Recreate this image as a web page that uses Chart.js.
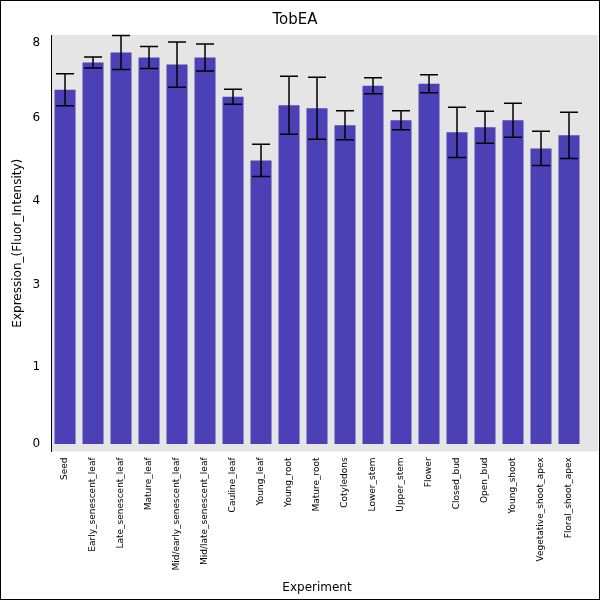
<!DOCTYPE html>
<html><head><meta charset="utf-8">
<script src="https://cdn.jsdelivr.net/npm/chart.js@4"></script>
<style>body{margin:0;background:#fff}#w{width:598px;height:598px;border:1px solid #000;position:relative}</style>
</head><body><div id="w"><canvas id="c"></canvas></div>
<script>
// tissue names and values in the chart's axis units
var categories = ['Seed','Early_senescent_leaf','Late_senescent_leaf','Mature_leaf','Mid/early_senescent_leaf','Mid/late_senescent_leaf','Cauline_leaf','Young_leaf','Young_root','Mature_root','Cotyledons','Lower_stem','Upper_stem','Flower','Closed_bud','Open_bud','Young_shoot','Vegetative_shoot_apex','Floral_shoot_apex'];
var means = [7.06,7.60,7.80,7.70,7.56,7.70,6.92,5.65,6.75,6.69,6.35,7.14,6.45,7.18,6.21,6.31,6.45,5.89,6.15];
var errs = [0.32,0.11,0.34,0.22,0.45,0.27,0.15,0.32,0.58,0.62,0.29,0.16,0.19,0.18,0.50,0.32,0.34,0.34,0.46];
var tickPos = [0,1.53,3.17,4.84,6.49,8];
var tickLabels = ['0','1','3','4','6','8'];

var bgPlugin = {
  id: 'bg',
  beforeDraw: function(chart) {
    var a = chart.chartArea, ctx = chart.ctx;
    ctx.save(); ctx.fillStyle = '#e5e5e5';
    ctx.fillRect(a.left, a.top, a.right - a.left + 15, a.bottom - a.top);
    ctx.restore();
  }
};
var errPlugin = {
  id: 'err',
  afterDatasetsDraw: function(chart) {
    var ctx = chart.ctx, y = chart.scales.y, meta = chart.getDatasetMeta(0);
    ctx.save(); ctx.strokeStyle = '#000'; ctx.lineWidth = 1.5;
    meta.data.forEach(function(bar, i) {
      var x = bar.x, hi = y.getPixelForValue(means[i] + errs[i]), lo = y.getPixelForValue(means[i] - errs[i]);
      ctx.beginPath();
      ctx.moveTo(x, hi); ctx.lineTo(x, lo);
      ctx.moveTo(x - 9, hi); ctx.lineTo(x + 9, hi);
      ctx.moveTo(x - 9, lo); ctx.lineTo(x + 9, lo);
      ctx.stroke();
    });
    ctx.restore();
  }
};

new Chart(document.getElementById('c'), {
  type: 'bar',
  data: { labels: categories, datasets: [{ data: means, backgroundColor: '#4b40b5', barPercentage: 0.75, categoryPercentage: 1 }] },
  options: {
    responsive: true, maintainAspectRatio: false, animation: false,
    layout: { padding: { right: 16, left: 6 } },
    plugins: {
      legend: { display: false }, tooltip: { enabled: false },
      title: { display: true, text: 'TobEA', color: '#000', font: { size: 15, weight: 'normal', family: 'DejaVu Sans' }, padding: { top: 10, bottom: 6 } }
    },
    scales: {
      x: {
        grid: { display: false, drawTicks: false },
        border: { display: false },
        ticks: { color: '#000', padding: 6, minRotation: 90, maxRotation: 90, font: { size: 9, family: 'DejaVu Sans' } },
        title: { display: true, text: 'Experiment', color: '#000', font: { size: 12, family: 'DejaVu Sans' } }
      },
      y: {
        min: -0.15, max: 8.15,
        grid: { display: false },
        border: { color: '#000' },
        afterBuildTicks: function(s) { s.ticks = tickPos.map(function(v) { return { value: v }; }); },
        ticks: { color: '#000', font: { size: 12, family: 'DejaVu Sans' },
          callback: function(v) { var i = tickPos.indexOf(v); return i >= 0 ? tickLabels[i] : ''; } },
        title: { display: true, text: 'Expression_(Fluor_Intensity)', color: '#000', font: { size: 12, family: 'DejaVu Sans' } }
      }
    }
  },
  plugins: [bgPlugin, errPlugin]
});
</script></body></html>
